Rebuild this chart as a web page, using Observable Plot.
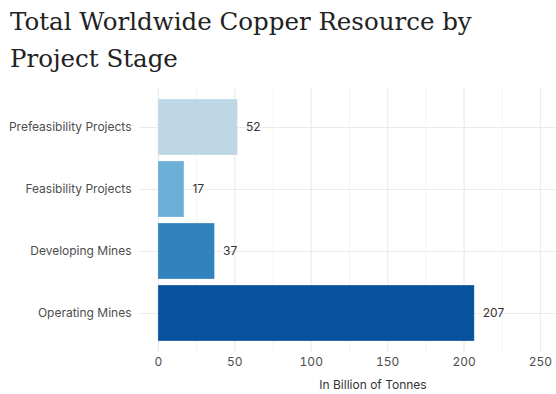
<!DOCTYPE html>
<html><head>
<meta charset="utf-8">
<script src="https://cdn.jsdelivr.net/npm/d3@7"></script>
<script src="https://cdn.jsdelivr.net/npm/@observablehq/plot@0.6"></script>
<style>
body{margin:0;background:#fff;width:556px;height:394px;overflow:hidden}
#title{font-family:"DejaVu Serif",serif;font-size:24.5px;line-height:37px;color:#222;padding:3px 0 0 10px;height:79px;box-sizing:border-box;white-space:nowrap}
#chart svg{display:block}
</style></head>
<body>
<div id="title">Total Worldwide Copper Resource by<br>Project Stage</div>
<div id="chart"></div>
<script>
const categories = ["Prefeasibility Projects","Feasibility Projects","Developing Mines","Operating Mines"];
const values = [52,17,37,207];
const colors = ["#bdd7e7","#6baed6","#3182bd","#08519c"];
const xTicks = [0,50,100,150,200,250];
const xMinorTicks = [25,75,125,175,225];
const xLabel = "In Billion of Tonnes";

const data = categories.map((c,i)=>({category:c, value:values[i]}));

const chart = Plot.plot({
  width: 556,
  height: 315,
  marginLeft: 139,
  marginRight: 0,
  marginTop: 9,
  marginBottom: 42,
  style: {fontFamily: "Inter, sans-serif", fontSize: "12px", color: "#4d4d4d", background: "#fff"},
  x: {domain: [-12.4, 260.5]},
  y: {domain: categories, paddingInner: 0.1, paddingOuter: 0.15},
  color: {domain: categories, range: colors},
  marks: [
    Plot.ruleX(xMinorTicks, {stroke: "#f4f4f4", strokeWidth: 1}),
    Plot.ruleX(xTicks, {stroke: "#ebebeb", strokeWidth: 1.2}),
    Plot.gridY({stroke: "#ebebeb", strokeOpacity: 1, strokeWidth: 1.2}),
    Plot.barX(data, {x: "value", y: "category", fill: "category", stroke: "#ffffff", strokeOpacity: 0.35, strokeWidth: 0.8}),
    Plot.text(data, {x: "value", y: "category", text: d => String(d.value), textAnchor: "start", dx: 8, fontSize: 12, fill: "#333"}),
    Plot.axisY({tickSize: 0, tickPadding: 8, label: null, fontSize: 12}),
    Plot.axisX({ticks: xTicks, tickSize: 0, tickPadding: 5, label: null, fontSize: 12}),
    Plot.text([xLabel], {frameAnchor: "bottom", dx: 25, dy: 33, lineAnchor: "middle", fontSize: 12, fill: "#333"})
  ]
});
document.getElementById("chart").appendChild(chart);
</script>
</body></html>
